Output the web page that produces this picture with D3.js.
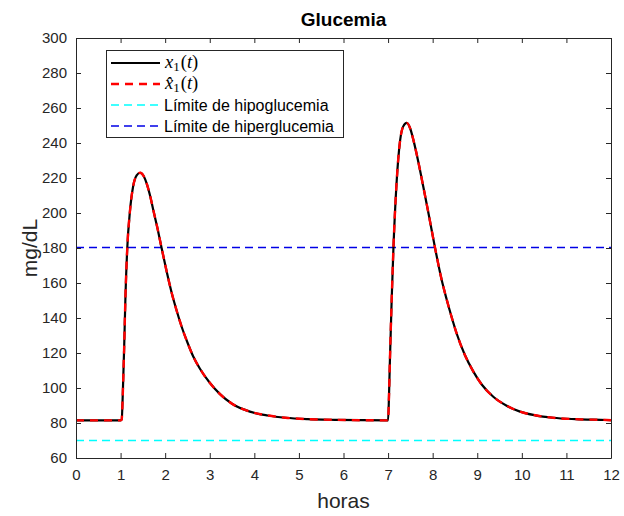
<!DOCTYPE html>
<html>
<head>
<meta charset="utf-8">
<script src="https://cdn.jsdelivr.net/npm/d3@7"></script>
<style>
  body { margin: 0; background: #fff; }
  svg { display: block; font-family: "Liberation Sans", Arial, sans-serif; }
</style>
</head>
<body>
<div id="main"></div>
<script>
"use strict";

// time in hours, glucose in mg/dL
var horas = [0, 1.0, 1.025, 1.05, 1.08, 1.11, 1.15, 1.21, 1.28, 1.36, 1.44, 1.52, 1.59, 1.67, 1.74, 1.83,
    1.92, 2.03, 2.15, 2.26, 2.37, 2.5, 2.63, 2.78, 3.0, 3.23, 3.5, 3.9, 4.3, 4.7, 5.2, 5.8, 6.4,
    7.0, 7.02, 7.04, 7.08, 7.12, 7.19, 7.27, 7.34, 7.42, 7.5, 7.57, 7.68, 7.79, 7.92, 8.05, 8.2,
    8.31, 8.42, 8.54, 8.72, 8.91, 9.1, 9.36, 9.65, 9.96, 10.3, 10.7, 11.2, 11.9, 12];
var glucosa = [81.5, 81.5, 82, 97, 123, 153, 180, 201, 215, 221.5, 223, 221, 216.5, 209, 201, 191,
    180, 167, 154, 144, 135, 126, 118, 111, 103, 96.5, 91, 86.5, 84.3, 83, 82.2, 81.8, 81.6,
    81.5, 95, 115, 150, 180, 217, 241.5, 249.5, 251.5, 248, 241.5, 229, 215, 198, 180.5, 162,
    151, 141, 131, 119, 109.5, 102, 95, 90, 86.5, 84.4, 83, 82.2, 81.7, 81.6];
var glucosaEst = glucosa.slice();   // estimate overlaps the state

var limiteHipo = 70;
var limiteHiper = 180;

var xTicks = d3.range(0, 13, 1);
var yTicks = d3.range(60, 301, 20);

var leyenda = ["x1(t)", "x̂1(t)", "Límite de hipoglucemia", "Límite de hiperglucemia"];

var W = 624, H = 516;
var mLeft = 76, mRight = 611, mTop = 38, mBottom = 458;
var axisColor = "#262626";

var svg = d3.select("#main").append("svg")
    .attr("width", W).attr("height", H);

var x = d3.scaleLinear().domain([0, 12]).range([mLeft, mRight]);
var y = d3.scaleLinear().domain([60, 300]).range([mBottom, mTop]);

var serie = horas.map(function(t, i){ return [t, glucosa[i]]; });
var serieEst = horas.map(function(t, i){ return [t, glucosaEst[i]]; });

var line = d3.line()
    .x(function(d){ return x(d[0]); })
    .y(function(d){ return y(d[1]); })
    .curve(d3.curveMonotoneX);

var plot = svg.append("g");

// limits
plot.append("line")
    .attr("x1", x(0)).attr("x2", x(12))
    .attr("y1", Math.round(y(limiteHipo)) - 0.5).attr("y2", Math.round(y(limiteHipo)) - 0.5)
    .attr("stroke", "#00ffff").attr("stroke-width", 1.3)
    .attr("stroke-dasharray", "8,5");
plot.append("line")
    .attr("x1", x(0)).attr("x2", x(12))
    .attr("y1", Math.round(y(limiteHiper)) - 0.5).attr("y2", Math.round(y(limiteHiper)) - 0.5)
    .attr("stroke", "#0000e6").attr("stroke-width", 1.3)
    .attr("stroke-dasharray", "8,5");

plot.append("path").datum(serie)
    .attr("d", line).attr("fill", "none")
    .attr("stroke", "#000").attr("stroke-width", 2.2);
plot.append("path").datum(serieEst)
    .attr("d", line).attr("fill", "none")
    .attr("stroke", "#ff0000").attr("stroke-width", 2.4)
    .attr("stroke-dasharray", "8,6");

// axes
var xAxisB = d3.axisBottom(x).tickValues(xTicks).tickSizeInner(-5).tickSizeOuter(0).tickPadding(11);
var xAxisT = d3.axisTop(x).tickValues(xTicks).tickSizeInner(-5).tickSizeOuter(0).tickFormat("");
var yAxisL = d3.axisLeft(y).tickValues(yTicks).tickSizeInner(-5).tickSizeOuter(0).tickPadding(9);
var yAxisR = d3.axisRight(y).tickValues(yTicks).tickSizeInner(-5).tickSizeOuter(0).tickFormat("");

function styleAxis(g){
    g.selectAll("path").attr("stroke", axisColor).attr("stroke-width", 1);
    g.selectAll("line").attr("stroke", axisColor).attr("stroke-width", 1);
    g.selectAll("text").attr("fill", axisColor)
        .style("font-family", "Liberation Sans, Arial, sans-serif")
        .style("font-size", "15px");
}

svg.append("g").attr("transform", "translate(0," + mBottom + ")").call(xAxisB).call(styleAxis);
svg.append("g").attr("transform", "translate(0," + mTop + ")").call(xAxisT).call(styleAxis);
svg.append("g").attr("transform", "translate(" + mLeft + ",0)").call(yAxisL).call(styleAxis);
svg.append("g").attr("transform", "translate(" + mRight + ",0)").call(yAxisR).call(styleAxis);

// labels
svg.append("text").attr("x", (mLeft + mRight) / 2).attr("y", 26)
    .attr("text-anchor", "middle").attr("font-weight", "bold")
    .attr("font-size", 19).attr("fill", "#000").text("Glucemia");
svg.append("text").attr("x", (mLeft + mRight) / 2).attr("y", 508)
    .attr("text-anchor", "middle").attr("font-size", 21)
    .attr("fill", axisColor).text("horas");
svg.append("text")
    .attr("transform", "translate(37," + (mTop + mBottom) / 2 + ") rotate(-90)")
    .attr("text-anchor", "middle").attr("font-size", 21)
    .attr("fill", axisColor).text("mg/dL");

// legend
var lg = svg.append("g");
lg.append("rect").attr("x", 106.5).attr("y", 50.5).attr("width", 237).attr("height", 87)
    .attr("fill", "#fff").attr("stroke", axisColor).attr("stroke-width", 1);

var rowsY = [63, 84, 105, 126];
var estilos = [
    {c: "#000", w: 2.2, d: null},
    {c: "#ff0000", w: 2.4, d: "8,6"},
    {c: "#00ffff", w: 1.3, d: "8,5"},
    {c: "#0000e6", w: 1.3, d: "8,5"}
];
rowsY.forEach(function(ry, i){
    var s = estilos[i];
    var ln = lg.append("line").attr("x1", 111).attr("x2", 160)
        .attr("y1", ry).attr("y2", ry)
        .attr("stroke", s.c).attr("stroke-width", s.w);
    if (s.d) ln.attr("stroke-dasharray", s.d);
});

function mathLabel(ry, hat){
    var t = lg.append("text").attr("x", 165).attr("y", ry + 5)
        .attr("font-family", "Liberation Serif, DejaVu Serif, serif")
        .attr("font-size", 18.5).attr("fill", "#000");
    t.append("tspan").attr("font-style", "italic").text(hat ? "x\u0302" : "x");
    t.append("tspan").attr("font-size", 13).attr("dy", 3).text("1");
    t.append("tspan").attr("dy", -3).attr("dx", 1).text("(");
    t.append("tspan").attr("font-style", "italic").text("t");
    t.append("tspan").text(")");
}
mathLabel(rowsY[0], false);
mathLabel(rowsY[1], true);
lg.append("text").attr("x", 164).attr("y", rowsY[2] + 5.5)
    .attr("font-size", 16).attr("fill", "#000").text(leyenda[2]);
lg.append("text").attr("x", 164).attr("y", rowsY[3] + 5.5)
    .attr("font-size", 16).attr("fill", "#000").text(leyenda[3]);
</script>
</body>
</html>
